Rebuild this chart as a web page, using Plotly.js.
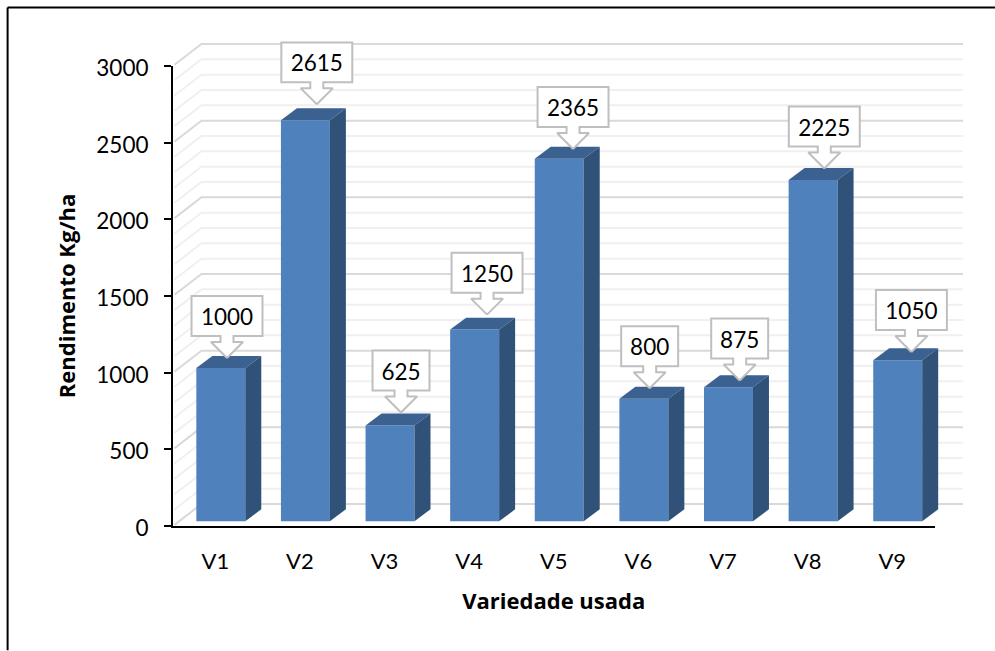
<!DOCTYPE html>
<html>
<head>
<meta charset="utf-8">
<script src="https://cdn.plot.ly/plotly-3.0.1.min.js"></script>
<style>html,body{margin:0;padding:0;background:#fff}#chart{width:995px;height:651px}</style>
</head>
<body>
<div id="chart"></div>
<script>
const categories = ['V1','V2','V3','V4','V5','V6','V7','V8','V9'];
const values = [1000,2615,625,1250,2365,800,875,2225,1050];
const yTicks = [0,500,1000,1500,2000,2500,3000];
const xTitle = 'Variedade usada';
const yTitle = 'Rendimento Kg/ha';

// Layout (pixels). The axes occupy axisW x axisH; marks may run past them into the wider drawing box.
const W = 995, H = 651;
const M = {l:172.5, r:20, t:30, b:124.5};
const boxW = W - M.l - M.r, boxH = H - M.t - M.b;
const axisW = 762, axisH = 460.5;
const xRange = [-0.5, 8.5], yRange = [0, 3000];
const pxX = axisW / (xRange[1]-xRange[0]);
const pxY = axisH / (yRange[1]-yRange[0]);
const dX = p => p / pxX;   // pixels -> x data units
const dY = p => p / pxY;   // pixels -> y data units
const xBig = [xRange[0], xRange[0]+dX(boxW)], yBig = [yRange[0], yRange[0]+dY(boxH)];

// Pseudo-3D styling (pixels)
const barLeft = -19, barW = 49, depthX = 16, depthY = 12, floorLift = 4.7;
const wallX = 28.5, wallY = 22;
const calloutDx = [11.7,16.9,16.5,17.9,19.3,11.3,16.7,16.7,19.2];
const calloutGap = [10,16,13,15,9.7,10.4,6.6,11.7,8.3];
const FONT = 'Lato, Carlito, Calibri, sans-serif';
const TITLE_FONT = '"Open Sans", sans-serif';

const C = {front:'#4F81BD', top:'#3A6190', side:'#305278', major:'#D9D9D9', minor:'#F0F0F0', box:'#BFBFBF'};
const lift = dY(floorLift);
const traces = [];
const common = {hoverinfo:'skip', showlegend:false, cliponaxis:false};

// Carrier of the visible axes (invisible markers at the data values)
traces.push({...common, type:'scatter', mode:'markers', x:categories.map((_,i)=>i), y:values,
  marker:{opacity:0, size:1}, xaxis:'x', yaxis:'y'});

// Wall grid: every 100, heavier every 500
function gridTrace(keep, color) {
  const xs = [], ys = [];
  for (let v = yRange[0]; v <= yRange[1]; v += 100) {
    if (!keep(v)) continue;
    xs.push(xRange[0]+dX(1.5), xRange[0]+dX(wallX), xRange[1]+dX(wallX), null);
    ys.push(v+dY(1.5*wallY/wallX), v+dY(wallY), v+dY(wallY), null);
  }
  return {...common, type:'scatter', mode:'lines', x:xs, y:ys, line:{color, width:2}, xaxis:'x2', yaxis:'y2'};
}
traces.push(gridTrace(v => v % 500 !== 0, C.minor));
traces.push(gridTrace(v => v % 500 === 0, C.major));

// Front faces
traces.push({type:'bar', x:categories.map((_,i)=>i), y:values, base:lift, width:dX(barW), offset:dX(barLeft),
  marker:{color:C.front, line:{width:0}}, xaxis:'x3', yaxis:'y3', showlegend:false, hoverinfo:'skip'});

// Top and side faces derived from the values
values.forEach((v,i) => {
  const l = i+dX(barLeft), r = l+dX(barW), t = v+lift, b = lift;
  const ox = dX(depthX), oy = dY(depthY);
  traces.push({...common, type:'scatter', mode:'lines', x:[l,l+ox,r+ox,r,l], y:[t,t+oy,t+oy,t,t], fill:'toself', fillcolor:C.top,
    line:{width:0,color:C.top}, xaxis:'x3', yaxis:'y3'});
  traces.push({...common, type:'scatter', mode:'lines', x:[r,r+ox,r+ox,r,r], y:[t,t+oy,b+oy,b,t], fill:'toself', fillcolor:C.side,
    line:{width:0,color:C.side}, xaxis:'x3', yaxis:'y3'});
});

// Callouts
const labelX = [], labelY = [], labelT = [];
values.forEach((v,i) => {
  const tipX = i+dX(calloutDx[i]), tipY = v+lift+dY(calloutGap[i]);
  const hw = String(v).length > 3 ? 35.5 : 28.5;
  const rx = [0,16,6.5,6.5,hw,hw,-hw,-hw,-6.5,-6.5,-16,0];
  const ry = [0,16,16,22,22,62,62,22,22,16,16,0];
  traces.push({...common, type:'scatter', mode:'lines', x:rx.map(p=>tipX+dX(p)), y:ry.map(p=>tipY+dY(p)),
    fill:'toself', fillcolor:'#FFFFFF', line:{color:C.box, width:2}, xaxis:'x3', yaxis:'y3'});
  labelX.push(tipX); labelY.push(tipY+dY(38.5)); labelT.push(String(v));
});
traces.push({...common, type:'scatter', mode:'text', x:labelX, y:labelY, text:labelT, textposition:'middle center',
  textfont:{family:FONT, size:22.5, color:'#000'}, xaxis:'x3', yaxis:'y3'});

const fx = p => (p - M.l) / boxW, fy = p => 1 - (p - M.t) / boxH;

const layout = {
  width:W, height:H, margin:{l:M.l, r:M.r, t:M.t, b:M.b, pad:0},
  paper_bgcolor:'#fff', plot_bgcolor:'rgba(0,0,0,0)', showlegend:false, barmode:'overlay',
  font:{family:FONT, color:'#000'},
  xaxis:{domain:[0,axisW/boxW], range:xRange, tickmode:'array', tickvals:categories.map((_,i)=>i), ticktext:categories,
    showgrid:false, zeroline:false, showline:true, linecolor:'#000', linewidth:2, ticks:'', ticklabelstandoff:15,
    tickfont:{family:FONT, size:22, color:'#000'},
    title:{text:xTitle, font:{family:TITLE_FONT, size:22, weight:700, color:'#000'}, standoff:20}},
  yaxis:{domain:[0,axisH/boxH], range:yRange, tickmode:'array', tickvals:yTicks, showgrid:false, zeroline:false,
    showline:true, linecolor:'#000', linewidth:2, ticks:'outside', ticklen:7, tickwidth:2, tickcolor:'#000',
    ticklabelstandoff:11, ticklabelshift:2, tickfont:{family:FONT, size:22.5, color:'#000'},
    title:{text:yTitle, font:{family:TITLE_FONT, size:22, weight:700, color:'#000'}, standoff:15}},
  xaxis2:{domain:[0,1], range:xBig, visible:false, anchor:'y2'},
  yaxis2:{domain:[0,1], range:yBig, visible:false, anchor:'x2'},
  xaxis3:{overlaying:'x2', range:xBig, visible:false, anchor:'y3'},
  yaxis3:{overlaying:'y2', range:yBig, visible:false, anchor:'x3'},
  shapes:[
    {type:'line', xref:'paper', yref:'paper', x0:fx(7), x1:fx(W), y0:fy(7.5), y1:fy(7.5), line:{color:'#000', width:2}},
    {type:'line', xref:'paper', yref:'paper', x0:fx(7), x1:fx(7), y0:fy(7.5), y1:fy(H), line:{color:'#000', width:2}}
  ]
};
Plotly.newPlot('chart', traces, layout, {displayModeBar:false, staticPlot:true});
</script>
</body>
</html>
